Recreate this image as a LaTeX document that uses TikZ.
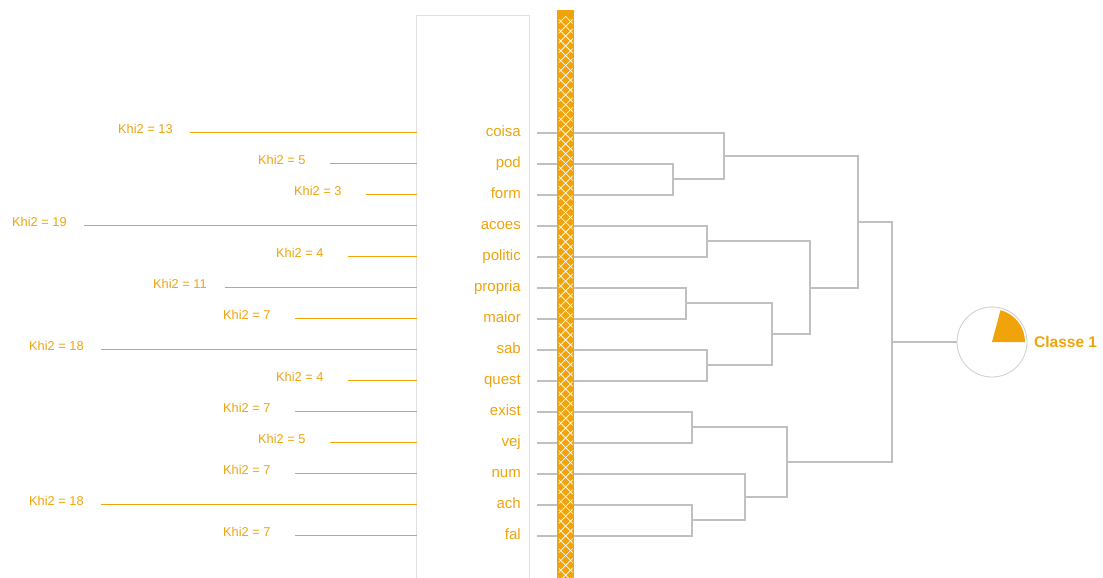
\documentclass[tikz,border=0pt]{standalone}
\usepackage{fontspec}
\setmainfont{Liberation Sans}
\definecolor{org}{RGB}{240,163,10}
\definecolor{dgray}{RGB}{192,192,192}
\definecolor{boxgray}{RGB}{224,224,224}
\definecolor{circgray}{RGB}{205,205,205}
\begin{document}
\begin{tikzpicture}[x=1pt,y=-1pt,
  khi/.style={anchor=base west, text=org, font=\fontsize{12.8}{14}\selectfont, inner sep=0pt},
  leaf/.style={anchor=base east, text=org, font=\fontsize{15}{17}\selectfont, inner sep=0pt},
  khiline/.style={draw=org, line width=1.4pt},
  dend/.style={draw=dgray, line width=2.3pt},
  hatch/.style={draw=white, line width=0.8pt, draw opacity=0.9}
]
\useasboundingbox (0,0) rectangle (1103,578);
% text column box
\draw[boxgray, line width=1.2pt] (416.7,15.3) rectangle (529.3,600);
% leaves, khi2 labels and lines
\foreach \i/\n/\xs/\v in {0/coisa/190/13, 1/pod/330/5, 2/form/366/3, 3/acoes/84/19,
  4/politic/348/4, 5/propria/225/11, 6/maior/295/7, 7/sab/101/18, 8/quest/348/4,
  9/exist/295/7, 10/vej/330/5, 11/num/295/7, 12/ach/101/18, 13/fal/295/7} {
  \pgfmathsetmacro\yy{132.7+31*\i}
  \node[leaf] (\n) at (521,\yy+4) {\n};
  \coordinate (l-\n) at (537,\yy);
  \coordinate (k-\n) at (416.7,\yy);
  \coordinate (ks-\n) at (\xs,\yy);
  \node[khi] (khi-\n) at (\xs-72,\yy+0.5) {Khi2 = \v};
  \draw[khiline] (ks-\n) -- (k-\n);
}
% dendrogram joins
\coordinate (j-pf) at (673.3,179.2);
\coordinate (j-cpf) at (724,156);
\coordinate (j-ap) at (706.7,241.2);
\coordinate (j-pm) at (685.7,303.2);
\coordinate (j-sq) at (706.7,365.2);
\coordinate (j-pmsq) at (771.7,334.2);
\coordinate (j-mid) at (810,287.7);
\coordinate (j-top) at (857.7,221.8);
\coordinate (j-ev) at (691.7,427.2);
\coordinate (j-af) at (691.7,520.2);
\coordinate (j-naf) at (745,497);
\coordinate (j-bot) at (787.3,462.1);
\coordinate (j-root) at (891.7,342);
\draw[dend] (l-coisa) -| (j-cpf) |- (j-pf);
\draw[dend] (l-pod) -| (j-pf) |- (l-form);
\draw[dend] (l-acoes) -| (j-ap) |- (l-politic);
\draw[dend] (l-propria) -| (j-pm) |- (l-maior);
\draw[dend] (l-sab) -| (j-sq) |- (l-quest);
\draw[dend] (j-pm) -| (j-pmsq) |- (j-sq);
\draw[dend] (j-ap) -| (j-mid) |- (j-pmsq);
\draw[dend] (j-cpf) -| (j-top) |- (j-mid);
\draw[dend] (l-exist) -| (j-ev) |- (l-vej);
\draw[dend] (l-ach) -| (j-af) |- (l-fal);
\draw[dend] (l-num) -| (j-naf) |- (j-af);
\draw[dend] (j-ev) -| (j-bot) |- (j-naf);
\draw[dend] (j-top) -| (j-root) |- (j-bot);
% hatched bar
\fill[org] (557.3,10.5) rectangle (574,600);
\begin{scope}
  \clip (558.8,16.5) rectangle (572.5,600);
  \foreach \k in {0,...,60} {
    \draw[hatch] (553.65,4.5+\k*9.8) -- ++(24,24);
    \draw[hatch] (577.65,4.5+\k*9.8) -- ++(-24,24);
  }
\end{scope}
% class circle
\node[circle, draw=circgray, line width=0.8pt, minimum size=70pt, inner sep=0pt] (cls) at (992,342) {};
\fill[org] (cls.center) -- ++(33pt,0pt) arc[start angle=0, end angle=75, radius=33pt] -- cycle;
\draw[dend] (j-root) -- (cls.west);
\node[anchor=west, text=org, font=\bfseries\fontsize{15.5}{17}\selectfont, inner sep=0pt] (classe) at (1034,342) {Classe 1};
\end{tikzpicture}
\end{document}
